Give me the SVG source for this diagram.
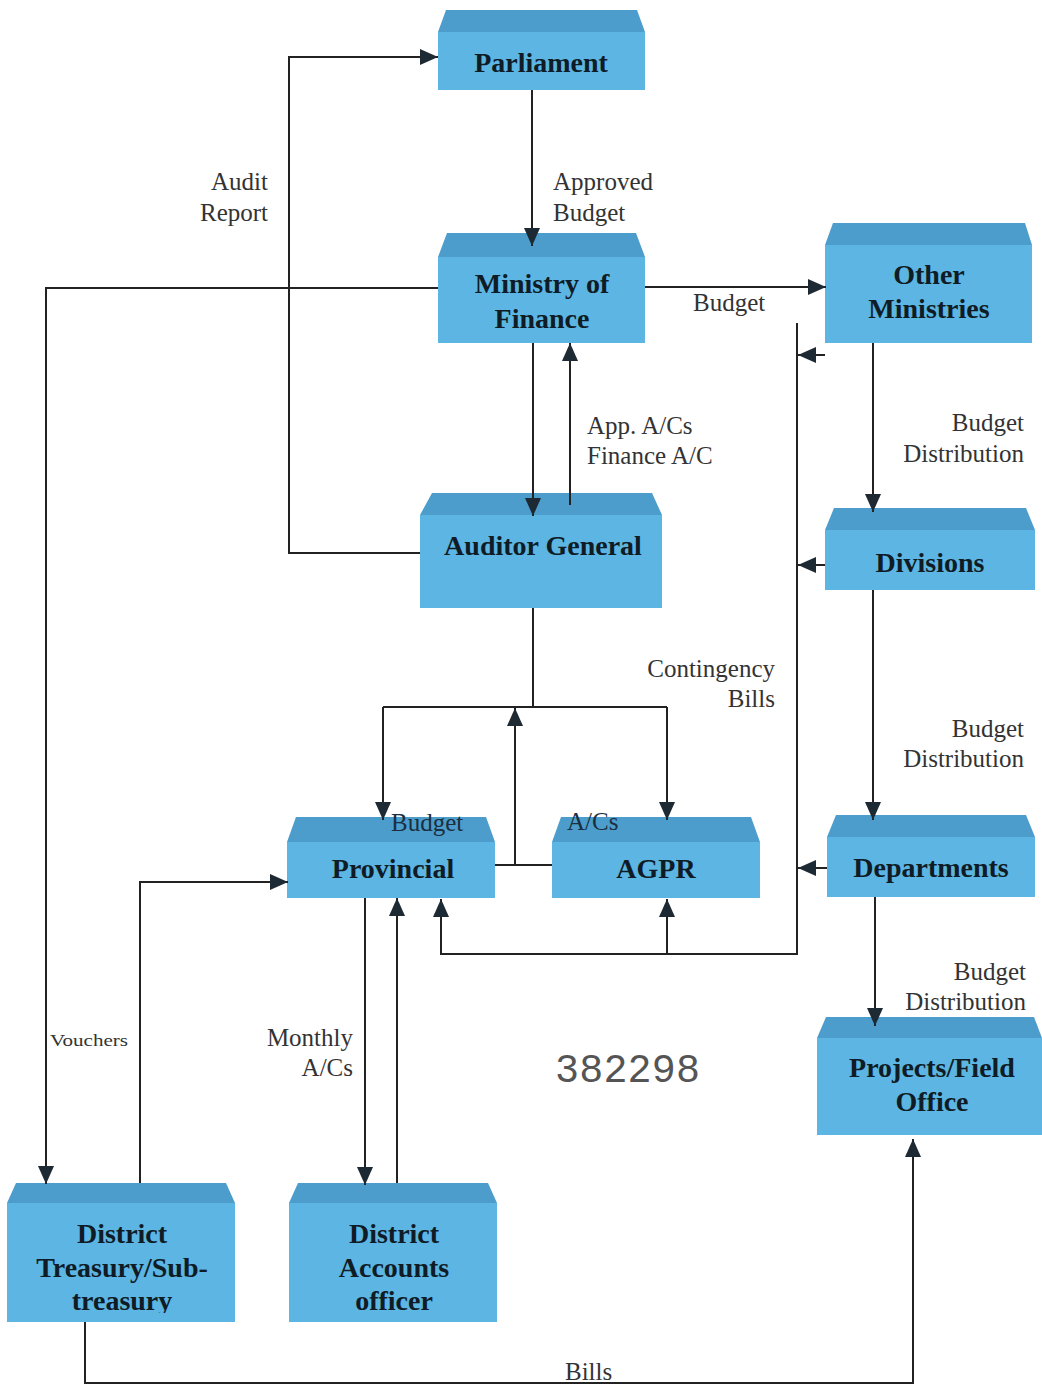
<svg xmlns="http://www.w3.org/2000/svg" width="1042" height="1385" viewBox="0 0 1042 1385">
  <style>
    .front { fill: #5cb5e2; }
    .top { fill: #4c9dcb; }
    .name { font-family: "Liberation Serif", "Times New Roman", serif; font-weight: bold; font-size: 28px; fill: #0f1c26; text-anchor: middle; }
    .lbl { font-family: "Liberation Serif", "Times New Roman", serif; font-size: 25px; fill: #333; }
    .end { text-anchor: end; }
    .wire { fill: none; stroke: #222; stroke-width: 2; }
  </style>
  <defs>
    <marker id="ah" markerUnits="userSpaceOnUse" markerWidth="18" markerHeight="16" refX="18" refY="8" orient="auto">
      <path d="M0,0 L18,8 L0,16 z" fill="#1e2a33"/>
    </marker>
    <clipPath id="clipTreasury"><rect x="7" y="1183" width="228" height="130"/></clipPath>
  </defs>

  <rect width="1042" height="1385" fill="#ffffff"/>

  <!-- nodes: darker bevelled top face above a flat front face -->
  <g id="parliament">
    <polygon class="top" points="438,32 446,10 637,10 645,32"/>
    <rect class="front" x="438" y="32" width="207" height="58"/>
    <text class="name" x="541" y="72">Parliament</text>
  </g>
  <g id="ministry-of-finance">
    <polygon class="top" points="438,257 447,233 636,233 645,257"/>
    <rect class="front" x="438" y="257" width="207" height="86"/>
    <text class="name" x="542" y="293">Ministry of</text>
    <text class="name" x="542" y="328">Finance</text>
  </g>
  <g id="other-ministries">
    <polygon class="top" points="825,245 833,223 1025,223 1032,245"/>
    <rect class="front" x="825" y="245" width="207" height="98"/>
    <text class="name" x="929" y="284">Other</text>
    <text class="name" x="929" y="318">Ministries</text>
  </g>
  <g id="auditor-general">
    <polygon class="top" points="420,515 432,493 652,493 662,515"/>
    <rect class="front" x="420" y="515" width="242" height="93"/>
    <text class="name" x="543" y="555">Auditor General</text>
  </g>
  <g id="divisions">
    <polygon class="top" points="825,530 834,508 1026,508 1035,530"/>
    <rect class="front" x="825" y="530" width="210" height="60"/>
    <text class="name" x="930" y="572">Divisions</text>
  </g>
  <g id="provincial">
    <polygon class="top" points="287,842 296,817 486,817 495,842"/>
    <rect class="front" x="287" y="842" width="208" height="56"/>
    <text class="name" x="393" y="878">Provincial</text>
  </g>
  <g id="agpr">
    <polygon class="top" points="552,842 561,817 751,817 760,842"/>
    <rect class="front" x="552" y="842" width="208" height="56"/>
    <text class="name" x="656" y="878">AGPR</text>
  </g>
  <g id="departments">
    <polygon class="top" points="827,837 836,815 1026,815 1035,837"/>
    <rect class="front" x="827" y="837" width="208" height="60"/>
    <text class="name" x="931" y="877">Departments</text>
  </g>
  <g id="projects-field-office">
    <polygon class="top" points="817,1038 826,1017 1034,1017 1042,1038"/>
    <rect class="front" x="817" y="1038" width="225" height="97"/>
    <text class="name" x="932" y="1077">Projects/Field</text>
    <text class="name" x="932" y="1111">Office</text>
  </g>
  <g id="district-treasury">
    <polygon class="top" points="7,1203 16,1183 226,1183 235,1203"/>
    <rect class="front" x="7" y="1203" width="228" height="119"/>
    <text class="name" x="122" y="1243">District</text>
    <text class="name" x="122" y="1277">Treasury/Sub-</text>
    <text class="name" x="122" y="1310" clip-path="url(#clipTreasury)">treasury</text>
  </g>
  <g id="district-accounts-officer">
    <polygon class="top" points="289,1203 298,1183 488,1183 497,1203"/>
    <rect class="front" x="289" y="1203" width="208" height="119"/>
    <text class="name" x="394" y="1243">District</text>
    <text class="name" x="394" y="1277">Accounts</text>
    <text class="name" x="394" y="1310">officer</text>
  </g>

  <!-- connectors -->
  <g id="connectors" class="wire">
    <polyline points="420,553 289,553 289,57 438,57" marker-end="url(#ah)"/>
    <line x1="532" y1="90" x2="532" y2="246" marker-end="url(#ah)"/>
    <line x1="645" y1="287" x2="826" y2="287" marker-end="url(#ah)"/>
    <polyline points="438,288 46,288 46,1184" marker-end="url(#ah)"/>
    <line x1="533" y1="343" x2="533" y2="516" marker-end="url(#ah)"/>
    <line x1="570" y1="505" x2="570" y2="343" marker-end="url(#ah)"/>
    <polyline points="533,608 533,707"/>
    <polyline points="383,707 667,707"/>
    <line x1="383" y1="707" x2="383" y2="820" marker-end="url(#ah)"/>
    <line x1="667" y1="707" x2="667" y2="820" marker-end="url(#ah)"/>
    <polyline points="495,865 552,865"/>
    <line x1="515" y1="865" x2="515" y2="708" marker-end="url(#ah)"/>
    <line x1="873" y1="343" x2="873" y2="512" marker-end="url(#ah)"/>
    <line x1="873" y1="590" x2="873" y2="820" marker-end="url(#ah)"/>
    <line x1="875" y1="897" x2="875" y2="1026" marker-end="url(#ah)"/>
    <polyline points="797,323 797,954 441,954 441,899" marker-end="url(#ah)"/>
    <line x1="667" y1="954" x2="667" y2="899" marker-end="url(#ah)"/>
    <line x1="825" y1="355" x2="798" y2="355" marker-end="url(#ah)"/>
    <line x1="825" y1="565" x2="798" y2="565" marker-end="url(#ah)"/>
    <line x1="827" y1="868" x2="798" y2="868" marker-end="url(#ah)"/>
    <polyline points="140,1183 140,882 288,882" marker-end="url(#ah)"/>
    <line x1="365" y1="898" x2="365" y2="1185" marker-end="url(#ah)"/>
    <line x1="397" y1="1183" x2="397" y2="898" marker-end="url(#ah)"/>
    <polyline points="85,1322 85,1383 913,1383 913,1139" marker-end="url(#ah)"/>
  </g>

  <!-- connector labels -->
  <g id="labels">
    <text class="lbl end" x="268" y="190">Audit</text>
    <text class="lbl end" x="268" y="221">Report</text>
    <text class="lbl" x="553" y="190">Approved</text>
    <text class="lbl" x="553" y="221">Budget</text>
    <text class="lbl" x="693" y="311">Budget</text>
    <text class="lbl" x="587" y="434">App. A/Cs</text>
    <text class="lbl" x="587" y="464">Finance A/C</text>
    <text class="lbl end" x="1024" y="431">Budget</text>
    <text class="lbl end" x="1024" y="462">Distribution</text>
    <text class="lbl end" x="775" y="677">Contingency</text>
    <text class="lbl end" x="775" y="707">Bills</text>
    <text class="lbl end" x="1024" y="737">Budget</text>
    <text class="lbl end" x="1024" y="767">Distribution</text>
    <text class="lbl end" x="1026" y="980">Budget</text>
    <text class="lbl end" x="1026" y="1010">Distribution</text>
    <text class="lbl" x="391" y="831" style="fill:#1b2f40">Budget</text>
    <text class="lbl" x="567" y="830" style="fill:#1b2f40">A/Cs</text>
    <text class="lbl" x="50" y="1046" textLength="78" lengthAdjust="spacingAndGlyphs" style="font-size:17px">Vouchers</text>
    <text class="lbl end" x="353" y="1046">Monthly</text>
    <text class="lbl end" x="353" y="1076">A/Cs</text>
    <text class="lbl" x="565" y="1380">Bills</text>
  </g>

  <text x="555" y="1082" font-family="Liberation Mono, DejaVu Sans Mono, monospace" font-size="40" fill="#555" textLength="145" lengthAdjust="spacing">382298</text>
</svg>
